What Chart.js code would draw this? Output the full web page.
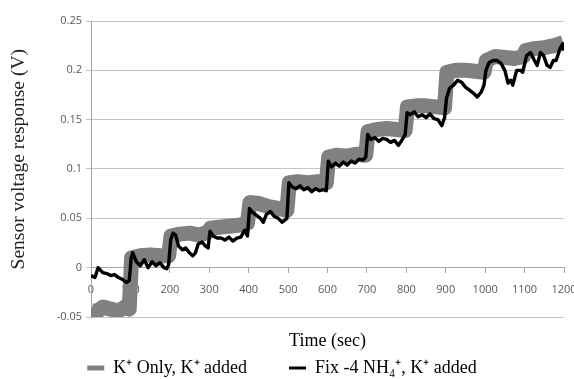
<!DOCTYPE html>
<html>
<head>
<meta charset="utf-8">
<script src="https://cdn.jsdelivr.net/npm/chart.js@4/dist/chart.umd.min.js"></script>
<style>
  html,body{margin:0;padding:0;background:#fff;}
  #wrap{width:574px;height:379px;position:relative;}
</style>
</head>
<body>
<div id="wrap"><canvas id="c"></canvas></div>
<script>
// tick values
const xTicks=[0,100,200,300,400,500,600,700,800,900,1000,1100,1200];
const yTicks=[-0.05,0,0.05,0.1,0.15,0.2,0.25];

// K+ only (grey, thick)
const kOnlyTime=[0,15,30,50,70,85,97,103,125,150,175,197,203,225,250,275,297,303,325,350,375,397,
  403,425,450,475,497,503,525,550,575,597,603,625,650,675,697,703,725,750,775,797,
  803,825,850,875,897,903,925,950,975,997,1003,1025,1050,1075,1097,1103,1125,1150,1175,1198];
const kOnlyVolt=[-0.043,-0.045,-0.04,-0.042,-0.044,-0.04,-0.042,0.01,0.012,0.013,0.012,0.012,0.032,0.034,0.035,0.033,0.036,0.04,0.041,0.042,0.043,0.045,
  0.066,0.065,0.062,0.06,0.058,0.086,0.087,0.086,0.087,0.086,0.112,0.114,0.113,0.115,0.114,0.138,0.14,0.141,0.14,0.139,
  0.163,0.164,0.164,0.163,0.162,0.198,0.2,0.2,0.199,0.198,0.21,0.214,0.213,0.212,0.214,0.22,0.222,0.223,0.225,0.228];

// Fix -4 NH4+ (black, thin)
const nh4Time=[0,10,18,25,30,40,50,60,70,80,90,97,
  102,106,115,125,135,145,155,165,175,185,192,197,
  202,208,215,222,232,240,250,258,265,272,282,290,297,
  302,310,320,330,340,350,360,370,380,390,397,
  402,410,420,430,437,445,455,465,475,485,497,
  502,510,520,530,540,550,560,570,580,590,597,
  602,610,620,630,640,650,660,670,680,690,697,
  702,710,720,730,740,750,760,770,780,790,797,
  802,810,820,830,840,850,860,870,880,890,897,
  902,910,920,930,940,950,960,970,980,990,997,
  1002,1010,1020,1030,1040,1050,1058,1065,1070,1080,1090,1095,
  1105,1115,1125,1132,1140,1148,1157,1165,1173,1180,1190,1197,1200];
const nh4Volt=[-0.008,-0.01,0.0,-0.003,-0.005,-0.006,-0.008,-0.007,-0.01,-0.012,-0.015,-0.013,
  0.01,0.015,0.006,0.002,0.008,0.0,0.006,0.002,0.005,0.0,-0.001,0.003,
  0.028,0.035,0.033,0.022,0.018,0.02,0.015,0.012,0.015,0.024,0.026,0.022,0.02,
  0.037,0.032,0.03,0.03,0.028,0.031,0.027,0.03,0.031,0.038,0.032,
  0.06,0.056,0.053,0.05,0.046,0.054,0.057,0.052,0.05,0.046,0.05,
  0.086,0.082,0.08,0.083,0.079,0.081,0.077,0.08,0.078,0.079,0.078,
  0.108,0.102,0.106,0.103,0.107,0.104,0.108,0.106,0.11,0.109,0.112,
  0.135,0.13,0.132,0.128,0.131,0.13,0.127,0.129,0.124,0.13,0.135,
  0.157,0.155,0.158,0.153,0.155,0.152,0.156,0.151,0.15,0.144,0.152,
  0.172,0.182,0.185,0.19,0.188,0.183,0.18,0.177,0.173,0.178,0.185,
  0.2,0.208,0.21,0.21,0.207,0.2,0.187,0.19,0.185,0.2,0.2,0.198,
  0.215,0.218,0.21,0.205,0.218,0.215,0.205,0.203,0.21,0.21,0.222,0.227,0.22];

const pts=(t,v)=>t.map((x,i)=>({x:x,y:v[i]}));
const serif="'Liberation Serif','Times New Roman',serif";
const sans="'Open Sans','DejaVu Sans',sans-serif";
const fmtTick=v=>String(Math.round(v*1000)/1000);

new Chart(document.getElementById('c'),{
  type:'line',
  data:{datasets:[
    {label:'K\u207A Only, K\u207A added',data:pts(kOnlyTime,kOnlyVolt),borderColor:'#808080',backgroundColor:'#808080',
      borderWidth:15,pointRadius:0,borderJoinStyle:'round',tension:0,order:1,clip:0},
    {label:'Fix -4 NH\u2084\u207A, K\u207A added',data:pts(nh4Time,nh4Volt),borderColor:'#000',backgroundColor:'#000',
      borderWidth:3.4,pointRadius:0,borderJoinStyle:'round',tension:0,order:0,clip:0}
  ]},
  options:{
    responsive:true,maintainAspectRatio:false,animation:false,
    layout:{padding:{top:21,right:10,left:0,bottom:-8}},
    plugins:{
      tooltip:{enabled:false},
      legend:{position:'bottom',
        labels:{usePointStyle:true,pointStyleWidth:17,color:'#000',padding:42,
          font:{family:serif,size:18},
          sort:(a,b)=>a.datasetIndex-b.datasetIndex,
          generateLabels:ch=>Chart.defaults.plugins.legend.labels.generateLabels(ch).map(it=>({...it,pointStyle:'line',lineWidth:it.datasetIndex===0?5:3}))}}
    },
    scales:{
      x:{type:'linear',min:0,max:1200,position:{y:0},z:1,
        afterBuildTicks:s=>{s.ticks=xTicks.map(v=>({value:v}));},
        afterFit:s=>{s.paddingRight=0;s.paddingLeft=0;},
        grid:{drawOnChartArea:false,drawTicks:true,tickLength:5,color:'#a6a6a6'},
        border:{display:true,color:'#a6a6a6'},
        ticks:{color:'#595959',font:{family:sans,size:11},padding:11,maxRotation:0,autoSkip:false,
          showLabelBackdrop:true,backdropColor:'#fff',backdropPadding:1,callback:v=>fmtTick(v)},
        title:{display:true,text:'Time (sec)',color:'#000',font:{family:serif,size:18},padding:{top:23,bottom:0}}},
      y:{type:'linear',min:-0.05,max:0.25,
        afterBuildTicks:s=>{s.ticks=yTicks.map(v=>({value:v}));},
        afterFit:s=>{s.width=91;},
        grid:{color:'#c4c4c4',tickLength:5},
        border:{display:true,color:'#a6a6a6'},
        ticks:{color:'#595959',font:{family:sans,size:11},padding:4,callback:v=>fmtTick(v)},
        title:{display:true,text:'\u2002\u2002Sensor voltage response (V)',color:'#222',font:{family:serif,size:19.5},padding:{top:7,bottom:0}}}
    }
  }
});
</script>
</body>
</html>
